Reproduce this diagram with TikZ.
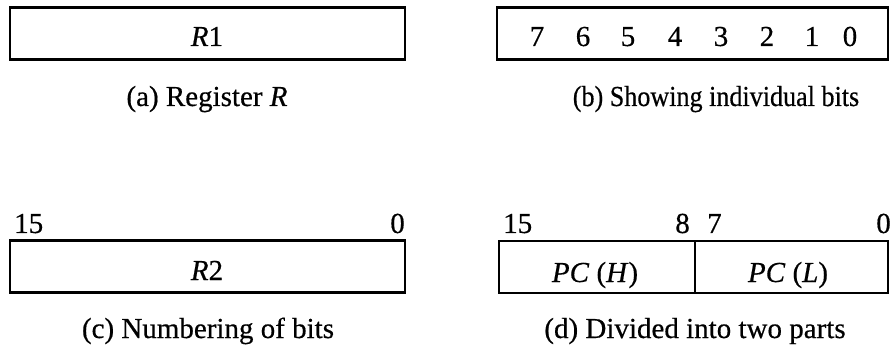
\documentclass[tikz,border=0pt]{standalone}
\usepackage{fontspec}
\setmainfont{Liberation Serif}[UprightFeatures={FakeBold=0.5},ItalicFeatures={FakeBold=0.5}]
\begin{document}
\begin{tikzpicture}[x=1pt,y=-1pt,
  reg/.style={draw, line width=2.4pt, minimum height=52pt, inner sep=0pt},
  lbl/.style={font=\fontsize{29}{34}\selectfont, anchor=base, inner sep=0pt}]
\useasboundingbox (0,0) rectangle (893,355);
% (a)
\node[reg, minimum width=395pt] (ra) at (207.5,33.5) {};
\node[lbl] (ratext) at (207,46) {\textit{R}1};
\node[lbl] (capa) at (207,106) {(a) Register \textit{R}};
% (b)
\node[reg, minimum width=391pt] (rb) at (692.5,33.5) {};
\node[lbl] (b7) at (537,46) {7};
\node[lbl] (b6) at (583,46) {6};
\node[lbl] (b5) at (628,46) {5};
\node[lbl] (b4) at (675,46) {4};
\node[lbl] (b3) at (721,46) {3};
\node[lbl] (b2) at (767,46) {2};
\node[lbl] (b1) at (812,46) {1};
\node[lbl] (b0) at (850,46) {0};
\node[lbl] (capb) at (716,106) {\scalebox{0.9}[1]{(b) Showing individual bits}};
% (c)
\node[reg, minimum width=395pt] (rc) at (207.5,266.5) {};
\node[lbl] (rctext) at (207,280) {\textit{R}2};
\node[lbl, anchor=base west] (c15) at (14,233) {15};
\node[lbl, anchor=base east] (c0) at (405,233) {0};
\node[lbl] (capc) at (208,338) {(c) Numbering of bits};
% (d)
\node[reg, minimum width=196pt] (pch) at (597,267) {};
\node[reg, minimum width=193pt] (pcl) at (791.5,267) {};
\node[lbl] (pchtext) at (595,282) {\textit{PC} (\textit{H})};
\node[lbl] (pcltext) at (788,282) {\textit{PC} (\textit{L})};
\node[lbl, anchor=base west] (d15) at (503,233) {15};
\node[lbl, anchor=base east] (d8) at (690,233) {8};
\node[lbl, anchor=base west] (d7) at (707,233) {7};
\node[lbl, anchor=base east] (d0) at (891,233) {0};
\node[lbl] (capd) at (695,338) {(d) Divided into two parts};
\end{tikzpicture}
\end{document}
